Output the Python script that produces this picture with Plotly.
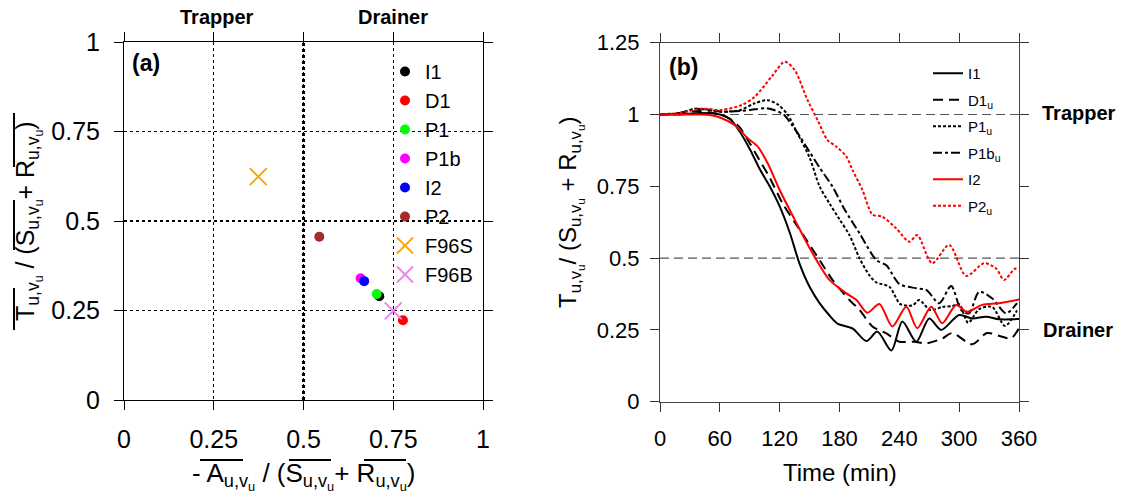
import plotly.graph_objects as go

W, H = 1122, 499
FONT = "Liberation Sans, Arial, sans-serif"

# ---------------- Panel (a) data ----------------
pts_names = ["I1", "D1", "P1", "P1b", "I2", "P2", "F96S", "F96B"]
pts_x = [0.711, 0.777, 0.704, 0.659, 0.669, 0.544, 0.374, 0.750]
pts_y = [0.290, 0.223, 0.296, 0.340, 0.332, 0.456, 0.624, 0.249]
pts_colors = ["black", "#FF0000", "#00FF00", "#FF00FF", "#0000FF", "#A52A2A", "#FFA500", "#EE82EE"]
pts_symbols = ["circle"] * 6 + ["x-thin-open"] * 2

ticks_a = [0, 0.25, 0.5, 0.75, 1]
ticklabels_a = ["0", "0.25", "0.5", "0.75", "1"]

# ---------------- Panel (b) data ----------------
t_I1 = [0, 20, 40, 60, 70, 80, 90, 100, 110, 120, 130, 140, 150, 160, 170, 178, 193, 207, 218, 232, 243, 257, 270, 282, 300, 313, 327, 340, 360]
v_I1 = [1.0, 1.0, 1.005, 1.0, 0.985, 0.94, 0.88, 0.81, 0.75, 0.68, 0.59, 0.48, 0.40, 0.343, 0.30, 0.272, 0.255, 0.211, 0.244, 0.178, 0.279, 0.209, 0.29, 0.25, 0.302, 0.29, 0.296, 0.287, 0.288]

t_D1 = [0, 20, 40, 60, 70, 80, 90, 100, 110, 123, 135, 147, 160, 173, 190, 200, 213, 227, 240, 255, 267, 283, 293, 313, 328, 343, 352, 360]
v_D1 = [1.0, 1.005, 1.012, 1.0, 0.985, 0.955, 0.90, 0.84, 0.78, 0.69, 0.625, 0.563, 0.493, 0.424, 0.354, 0.32, 0.262, 0.238, 0.209, 0.209, 0.203, 0.22, 0.239, 0.20, 0.239, 0.226, 0.22, 0.256]

t_P1 = [0, 20, 35, 45, 62, 80, 95, 108, 118, 128, 137, 150, 160, 170, 180, 190, 200, 210, 217, 230, 241, 253, 260, 271, 283, 293, 300, 309, 320, 333, 346, 358]
v_P1 = [1.0, 1.005, 1.02, 1.018, 1.01, 1.015, 1.039, 1.05, 1.035, 1.0, 0.94, 0.85, 0.75, 0.69, 0.635, 0.58, 0.50, 0.44, 0.415, 0.40, 0.34, 0.335, 0.354, 0.319, 0.33, 0.333, 0.34, 0.275, 0.322, 0.33, 0.264, 0.318]

t_P1b = [0, 20, 35, 45, 62, 80, 95, 106, 115, 124, 132, 140, 150, 160, 173, 185, 200, 217, 227, 240, 257, 267, 280, 292, 302, 310, 320, 333, 347, 358]
v_P1b = [1.0, 1.005, 1.02, 1.018, 1.01, 1.012, 1.018, 1.022, 1.015, 1.0, 0.965, 0.925, 0.87, 0.815, 0.749, 0.67, 0.587, 0.493, 0.475, 0.41, 0.395, 0.389, 0.343, 0.403, 0.319, 0.308, 0.383, 0.36, 0.308, 0.343]

t_I2 = [0, 20, 40, 50, 62, 75, 88, 98, 108, 120, 137, 153, 170, 187, 197, 208, 220, 233, 247, 258, 272, 283, 297, 308, 323, 340, 360]
v_I2 = [1.0, 1.0, 1.0, 0.998, 0.987, 0.963, 0.917, 0.888, 0.83, 0.737, 0.621, 0.517, 0.424, 0.377, 0.354, 0.31, 0.34, 0.262, 0.331, 0.256, 0.331, 0.273, 0.337, 0.313, 0.337, 0.343, 0.356]

t_P2 = [0, 20, 42, 62, 82, 95, 112, 125, 135, 148, 158, 168, 177, 187, 193, 203, 213, 223, 237, 250, 258, 273, 290, 307, 325, 337, 345, 355, 358]
v_P2 = [1.0, 1.005, 1.02, 1.016, 1.033, 1.062, 1.132, 1.184, 1.155, 1.05, 0.981, 0.911, 0.888, 0.853, 0.807, 0.737, 0.652, 0.644, 0.603, 0.557, 0.58, 0.482, 0.546, 0.438, 0.482, 0.464, 0.424, 0.461, 0.465]

series_names = ["I1", "D1<sub>u</sub>", "P1<sub>u</sub>", "P1b<sub>u</sub>", "I2", "P2<sub>u</sub>"]
series_t = [t_I1, t_D1, t_P1, t_P1b, t_I2, t_P2]
series_v = [v_I1, v_D1, v_P1, v_P1b, v_I2, v_P2]
series_colors = ["black", "black", "black", "black", "#FF0000", "#FF0000"]
series_dash = ["solid", "10px,6px", "3px,2px", "9px,3px,3px,3px", "solid", "3px,2px"]

ticks_bx = [0, 60, 120, 180, 240, 300, 360]
ticks_by = [0, 0.25, 0.5, 0.75, 1, 1.25]
ticklabels_by = ["0", "0.25", "0.5", "0.75", "1", "1.25"]


def px(x):
    return x / W


def py(y):
    return 1 - y / H


fig = go.Figure()

for i, n in enumerate(pts_names):
    is_x = pts_symbols[i] != "circle"
    fig.add_trace(go.Scatter(
        x=[pts_x[i]], y=[pts_y[i]], mode="markers", name=n,
        xaxis="x", yaxis="y", legend="legend",
        marker=dict(symbol=pts_symbols[i], color=pts_colors[i],
                    size=17 if is_x else 10,
                    line=dict(color=pts_colors[i], width=2 if is_x else 0)),
        cliponaxis=False,
    ))

for i, n in enumerate(series_names):
    fig.add_trace(go.Scatter(
        x=series_t[i], y=series_v[i], mode="lines", name=n,
        xaxis="x2", yaxis="y2", legend="legend2", legendgroup="b" + str(i),
        line=dict(color=series_colors[i], width=2, dash=series_dash[i], shape="spline", smoothing=0.8),
    ))

axis_a = dict(showline=True, linecolor="black", linewidth=1, mirror="ticks",
              ticks="outside", ticklen=9, tickcolor="black", zeroline=False,
              automargin=False)
axis_b = dict(showline=True, linecolor="#444444", linewidth=1.2, mirror="ticks",
              ticks="outside", ticklen=9, tickcolor="#333333", zeroline=False,
              automargin=False)
font_a = dict(family=FONT, size=25, color="black")
font_b = dict(family=FONT, size=22, color="black")

fig.update_layout(
    width=W, height=H, margin=dict(l=0, r=0, t=0, b=0, autoexpand=False),
    paper_bgcolor="white", plot_bgcolor="white",
    font=dict(family=FONT, color="black"),
    xaxis=dict(domain=[px(124), px(483)], range=[0, 1], tickvals=ticks_a, ticktext=ticklabels_a,
               showgrid=True, gridcolor="black", gridwidth=1, griddash="dot",
               anchor="y", ticklabelstandoff=8, tickfont=font_a, **axis_a),
    yaxis=dict(domain=[py(400), py(42)], range=[0, 1], tickvals=ticks_a, ticktext=ticklabels_a,
               showgrid=True, gridcolor="black", gridwidth=1, griddash="dot",
               anchor="x", ticklabelstandoff=9, tickfont=font_a, **axis_a),
    xaxis2=dict(domain=[px(660), px(1019)], range=[0, 360], tickvals=ticks_bx,
                showgrid=False, anchor="y2", ticklabelstandoff=8, tickfont=font_b, **axis_b),
    yaxis2=dict(domain=[py(401.7), py(42.7)], range=[0, 1.25], tickvals=ticks_by, ticktext=ticklabels_by,
                showgrid=False, anchor="x2", ticklabelstandoff=6, tickfont=font_b, **axis_b),
    legend=dict(x=px(385), y=py(52), xanchor="left", yanchor="top",
                font=dict(family=FONT, size=20, color="black"), bgcolor="rgba(0,0,0,0)",
                tracegroupgap=0, itemsizing="trace"),
    legend2=dict(x=px(928), y=py(57), xanchor="left", yanchor="top",
                 font=dict(family=FONT, size=15, color="black"), bgcolor="rgba(0,0,0,0)",
                 tracegroupgap=4),
    showlegend=True,
)

shapes = [
    dict(type="line", xref="x", yref="y", x0=0.5, x1=0.5, y0=0, y1=1,
         line=dict(color="black", width=3, dash="dot")),
    dict(type="line", xref="x", yref="y", x0=0, x1=1, y0=0.5, y1=0.5,
         line=dict(color="black", width=2, dash="dot")),
    dict(type="line", xref="x2", yref="y2", x0=0, x1=360, y0=1, y1=1, layer="below",
         line=dict(color="#555555", width=1.2, dash="9px,5px")),
    dict(type="line", xref="x2", yref="y2", x0=0, x1=360, y0=0.5, y1=0.5, layer="below",
         line=dict(color="#555555", width=1.2, dash="9px,5px")),
]
# overlines for the panel (a) x-axis title
for (a, b) in [(200, 243), (289, 331), (364, 406)]:
    shapes.append(dict(type="line", xref="paper", yref="paper", x0=px(a), x1=px(b), y0=py(460), y1=py(460),
                       line=dict(color="black", width=2)))
# overlines for the panel (a) y-axis title (rotated)
for (a, b) in [(113, 167), (200, 250), (288, 330)]:
    shapes.append(dict(type="line", xref="paper", yref="paper", x0=px(14), x1=px(14), y0=py(a), y1=py(b),
                       line=dict(color="black", width=2)))
fig.update_layout(shapes=shapes)

sub = "<sub>u,v<sub>u</sub></sub>"
ann = [
    dict(text="<b>Trapper</b>", x=px(217), y=py(17), size=20, angle=0),
    dict(text="<b>Drainer</b>", x=px(393), y=py(17), size=20, angle=0),
    dict(text="<b>(a)</b>", x=px(146), y=py(63), size=23, angle=0),
    dict(text="<b>(b)</b>", x=px(683), y=py(67), size=23, angle=0),
    dict(text="<b>Trapper</b>", x=px(1079), y=py(113), size=20, angle=0),
    dict(text="<b>Drainer</b>", x=px(1078), y=py(330), size=20, angle=0),
    dict(text="- A" + sub + " / (S" + sub + "+ R" + sub + ")", x=px(303), y=py(476), size=26, angle=0),
    dict(text="T" + sub + " / (S" + sub + "+ R" + sub + ")", x=px(28), y=py(221), size=25, angle=-90),
    dict(text="Time (min)", x=px(840), y=py(472), size=24, angle=0),
    dict(text="T" + sub + "/ (S" + sub + " + R" + sub + ")", x=px(570), y=py(212), size=24, angle=-90),
]
for a in ann:
    fig.add_annotation(text=a["text"], x=a["x"], y=a["y"], xref="paper", yref="paper",
                       xanchor="center", yanchor="middle", showarrow=False, textangle=a["angle"],
                       font=dict(family=FONT, size=a["size"], color="black"))

fig.write_html("out.html", config={"displayModeBar": False},
               post_script="document.body.style.margin='0px';document.body.style.overflow='hidden';")
